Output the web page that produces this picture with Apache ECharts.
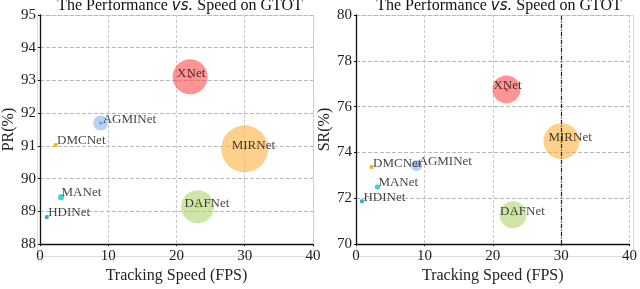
<!DOCTYPE html>
<html><head><meta charset="utf-8">
<script src="https://cdn.jsdelivr.net/npm/echarts@6/dist/echarts.min.js"></script>
<style>html,body{margin:0;padding:0;background:#fff}#c{width:640px;height:289px}</style>
</head><body><div id="c"></div>
<script>
// ---- data ----
const methods = ['XNet','MIRNet','DAFNet','AGMINet','DMCNet','MANet','HDINet'];
const fps      = [22, 30, 23.1, 8.9, 2.3, 3.1, 1.0];
const prValues = [93.11, 90.91, 89.14, 91.7, 91.03, 89.43, 88.83];
const fpsSR    = [22, 30.05, 22.96, 8.85, 2.27, 3.13, 0.87];
const srValues = [76.75, 74.49, 71.28, 73.43, 73.36, 72.49, 71.87];
const prBubble = [35, 47, 33, 15, 4, 6, 4];
const srBubble = [28, 36, 27, 11, 4, 5, 4];
const xTicks = [0, 10, 20, 30, 40];
const prRange = [88, 95];
const srRange = [70, 80];

// ---- style ----
const fill = ['rgba(255,70,70,0.72)','rgba(252,185,80,0.82)','rgba(170,210,100,0.7)','rgba(120,165,235,0.65)','#f5b400','#3cd0d8','#1ea8f0'];
const dot  = ['#ff1a1a','#f5b400','#9acd32','#5a8de0','#f5b400','#3cd0d8','#1ea8f0'];
const serif = 'Liberation Serif';

const chart = echarts.init(document.getElementById('c'), null, {renderer:'canvas'});

function axisX(gi){
  return {gridIndex:gi, type:'value', min:xTicks[0], max:xTicks[xTicks.length-1], interval:10,
    name:'Tracking Speed (FPS)', nameLocation:'middle', nameGap:17,
    nameTextStyle:{fontFamily:serif, fontSize:16, color:'#222', verticalAlign:'top'},
    axisLine:{onZero:false, lineStyle:{color:'#111', width:1.3}},
    axisTick:{show:true, length:2, lineStyle:{color:'#111'}},
    axisLabel:{fontFamily:serif, fontSize:15, color:'#222', margin:4},
    splitLine:{show:true, lineStyle:{color:'#c8c8c8', type:[3,2], width:1}}};
}
function axisY(gi, name, range, itv){
  return {gridIndex:gi, type:'value', min:range[0], max:range[1], interval:itv,
    name:name, nameLocation:'middle', nameGap:20, nameRotate:90,
    nameTextStyle:{fontFamily:serif, fontSize:16, color:'#222'},
    axisLine:{onZero:false, lineStyle:{color:'#111', width:1.3}},
    axisTick:{show:true, length:2, lineStyle:{color:'#111'}},
    axisLabel:{fontFamily:serif, fontSize:15, color:'#222', margin:4},
    splitLine:{show:true, lineStyle:{color:'#b8b8b8', type:[4,2], width:1}}};
}
function bubbles(gi, xs, ys, sizes){
  return {type:'scatter', xAxisIndex:gi, yAxisIndex:gi, z:2, silent:true,
    data: methods.map((m,i)=>({value:[xs[i], ys[i]], symbolSize:sizes[i], itemStyle:{color:fill[i]}}))};
}
function centers(gi, xs, ys, sizes){
  return {type:'scatter', xAxisIndex:gi, yAxisIndex:gi, z:3, silent:true,
    data: methods.map((m,i)=>{
      const dx = sizes[i] >= 20 ? -13 : 2;
      return {value:[xs[i], ys[i]], name:m, symbolSize: sizes[i] >= 10 ? 3 : sizes[i],
        itemStyle:{color:dot[i]},
        label:{show:true, formatter:m, position:[dx + 1.5, -2], align:'left', verticalAlign:'middle',
          fontFamily:serif, fontSize:13, color:'#111'}};
    })};
}

function titleText(cx){
  return {left:cx, top:-7, textAlign:'center',
    text:'The Performance {i|vs.} Speed on GTOT',
    textStyle:{fontFamily:serif, fontSize:16, fontWeight:'normal', color:'#111',
      rich:{i:{fontFamily:'DejaVu Sans', fontStyle:'italic', fontSize:15, color:'#111'}}}};
}

const borderBox = (l, t, w, h)=>({type:'rect', shape:{x:l+0.5, y:t+0.5, width:w, height:h}, z:0, silent:true,
  style:{fill:'none', stroke:'#dcdcdc', lineWidth:1}});

chart.setOption({
  animation:false,
  backgroundColor:'#fff',
  textStyle:{fontFamily:serif},
  title:[titleText(175), titleText(494)],
  grid:[{left:37, top:15, width:276, height:241},
        {left:356, top:15, width:277, height:241}],
  graphic:[borderBox(37,15,276,241), borderBox(356,15,277,241)],
  xAxis:[axisX(0), axisX(1)],
  yAxis:[axisY(0,'PR(%)',prRange,1), axisY(1,'SR(%)',srRange,2)],
  series:[
    bubbles(0, fps, prValues, prBubble),
    centers(0, fps, prValues, prBubble),
    Object.assign(bubbles(1, fpsSR, srValues, srBubble), {
      markLine:{silent:true, symbol:'none', label:{show:false},
        lineStyle:{color:'#222', type:[4,1.5,1,1.5], width:1.2},
        data:[{xAxis:30}]}}),
    centers(1, fpsSR, srValues, srBubble)
  ]
});
</script></body></html>
